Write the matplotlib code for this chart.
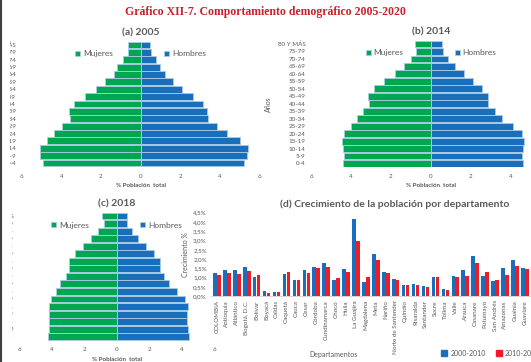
import numpy as np
import matplotlib
matplotlib.use("Agg")
import matplotlib.pyplot as plt
from matplotlib.lines import Line2D
from matplotlib.patches import Patch
from matplotlib.transforms import Bbox

# age groups, bottom (0-4) to top (80 y más)
edades = ["0-4", "5-9", "10-14", "15-19", "20-24", "25-29", "30-34", "35-39",
          "40-44", "45-49", "50-54", "55-59", "60-64", "65-69", "70-74",
          "75-79", "80 Y MÁS"]

muj_2005 = [4.92, 5.07, 5.07, 4.73, 4.35, 3.95, 3.55, 3.60, 3.35, 2.80, 2.25,
            1.77, 1.35, 1.17, 0.90, 0.63, 0.63]
hom_2005 = [5.21, 5.38, 5.42, 5.00, 4.36, 3.88, 3.42, 3.37, 3.16, 2.65, 2.12,
            1.66, 1.25, 1.00, 0.77, 0.51, 0.48]

muj_2014 = [4.40, 4.35, 4.40, 4.47, 4.33, 4.02, 3.70, 3.38, 3.10, 3.15, 2.85,
            2.33, 1.82, 1.37, 1.02, 0.77, 0.80]
hom_2014 = [4.60, 4.55, 4.60, 4.65, 4.55, 4.08, 3.53, 3.18, 2.87, 2.83, 2.57,
            2.08, 1.63, 1.18, 0.85, 0.62, 0.57]

muj_2018 = [4.25, 4.17, 4.17, 4.19, 4.19, 4.07, 3.76, 3.47, 3.14, 2.96, 2.96,
            2.59, 2.10, 1.60, 1.17, 0.78, 0.90]
hom_2018 = [4.48, 4.41, 4.31, 4.31, 4.41, 4.21, 3.70, 3.24, 2.91, 2.69, 2.69,
            2.32, 1.80, 1.33, 0.94, 0.62, 0.62]

deptos = ["COLOMBIA", "Antioquia", "Atlántico", "Bogotá, D.C.", "Bolívar",
          "Boyacá", "Caldas", "Caquetá", "Cauca", "Cesar", "Córdoba",
          "Cundinamarca", "Chocó", "Huila", "La Guajira", "Magdalena", "Meta",
          "Nariño", "Norte de Santander", "Quindío", "Risaralda", "Santander",
          "Sucre", "Tolima", "Valle", "Arauca", "Casanare", "Putumayo",
          "San Andrés", "Amazonas", "Guainía", "Guaviare"]
crec_0010 = [1.22, 1.40, 1.40, 1.56, 1.00, 0.27, 0.22, 1.17, 0.85, 1.38, 1.55,
             1.80, 0.86, 1.46, 4.14, 0.74, 2.27, 1.28, 0.90, 0.58, 0.63, 0.56,
             1.00, 0.38, 1.08, 1.38, 2.14, 1.06, 0.81, 1.51, 1.94, 1.51]
crec_1020 = [1.13, 1.24, 1.19, 1.33, 1.13, 0.16, 0.22, 1.29, 0.86, 1.24, 1.53,
             1.58, 0.99, 1.28, 2.99, 1.00, 1.94, 1.24, 0.86, 0.58, 0.58, 0.49,
             1.00, 0.31, 1.03, 1.10, 1.78, 1.28, 0.86, 1.15, 1.60, 1.46]

VERDE = "#00a650"
AZUL = "#1a6fbd"
ROJO = "#ee1c25"
GRIS = "#595959"
BORDE = "#a9cce3"

plt.rcParams["font.family"] = ["Lato", "DejaVu Sans"]

W, H = 531, 362
fig = plt.figure(figsize=(W / 100, H / 100), dpi=100)


def px_axes(x0, y0, x1, y1):
    ax = fig.add_axes([x0 / W, 1 - y1 / H, (x1 - x0) / W, (y1 - y0) / H])
    ax.patch.set_alpha(0)
    return ax


def piramide(ax, muj, hom, titulo, clip_x=None):
    y = np.arange(len(edades))
    ax.barh(y, -np.array(muj), height=0.92, color=VERDE, edgecolor=BORDE,
            linewidth=0.6, label="Mujeres")
    ax.barh(y, hom, height=0.92, color=AZUL, edgecolor=BORDE,
            linewidth=0.6, label="Hombres")
    ax.set_xlim(-6, 6)
    ax.set_ylim(-0.5, len(edades) - 0.5)
    ax.set_xticks([-6, -4, -2, 0, 2, 4, 6])
    ax.set_xticklabels(["6", "4", "2", "0", "2", "4", "6"])
    ax.set_yticks(y)
    ax.set_yticklabels(edades)
    ax.tick_params(length=0, labelsize=4.5, colors=GRIS, pad=4)
    ax.tick_params(axis="x", pad=5)
    for s in ax.spines.values():
        s.set_visible(False)
    ax.set_title(titulo, fontsize=7.5, fontweight="bold", color=GRIS, pad=4)
    ax.set_xlabel("% Población  total", fontsize=4.5, fontweight="bold",
                  color=GRIS, labelpad=3)
    ax.legend(loc="center", bbox_to_anchor=(0.5, 0.9), ncol=2, frameon=False,
              fontsize=6, labelcolor=GRIS, handlelength=0.6, handleheight=0.6,
              handletextpad=0.3, columnspacing=6.2)
    if clip_x is not None:
        # the age labels are cut at the left margin
        bb = Bbox.from_extents(clip_x, 0, W, H)
        for t in ax.get_yticklabels():
            t.set_clip_box(bb)
            t.set_clip_on(True)


# (a) 2005
ax_a = px_axes(21.7, 41.3, 259.3, 166.7)
piramide(ax_a, muj_2005, hom_2005, "(a) 2005", clip_x=10)

# (b) 2014
ax_b = px_axes(311, 40.3, 551, 167.2)
piramide(ax_b, muj_2014, hom_2014, "(b) 2014")
ax_b.set_ylabel("Años", fontsize=5, color=GRIS, labelpad=4)

# (c) 2018
ax_c = px_axes(19.3, 212.2, 214, 340.5)
piramide(ax_c, muj_2018, hom_2018, "(c) 2018", clip_x=12)

# (d) growth by department
ax_d = px_axes(211, 212.7, 554.6, 296)
x = np.arange(len(deptos))
bw = 0.36
ax_d.bar(x - bw / 2 - 0.02, crec_0010, width=bw, color=AZUL, label="2000-2010")
ax_d.bar(x + bw / 2 + 0.02, crec_1020, width=bw, color=ROJO, label="2010-2020")
ax_d.set_xlim(-0.6, 34)
ax_d.set_ylim(0, 4.5)
ax_d.set_yticks(np.arange(0, 4.51, 0.5))
ax_d.set_yticklabels([f"{v:.1f}%".replace(".", ",") for v in np.arange(0, 4.51, 0.5)])
ax_d.set_xticks(x)
ax_d.set_xticklabels(deptos, rotation=90)
ax_d.tick_params(length=0, labelsize=4.5, colors=GRIS, pad=3)
for s in ["top", "right", "left"]:
    ax_d.spines[s].set_visible(False)
ax_d.spines["bottom"].set_color("#d0d0d0")
ax_d.spines["bottom"].set_linewidth(0.6)
ax_d.set_ylabel("Crecimiento %", fontsize=5, color=GRIS, labelpad=3)
fig.text(395 / W, 1 - 204 / H, "(d) Crecimiento de la población por departamento",
         fontsize=7.5, fontweight="bold", color=GRIS, ha="center", va="center")
fig.text(333 / W, 1 - 355 / H, "Departamentos", fontsize=5, color=GRIS,
         ha="center", va="center")
ax_d.legend(handles=[Patch(color=AZUL, label="2000-2010"),
                     Patch(color=ROJO, label="2010-2020")],
            loc="center left", bbox_to_anchor=(435 / W, 1 - 353 / H),
            bbox_transform=fig.transFigure, ncol=2, frameon=False,
            fontsize=5, labelcolor=GRIS, handlelength=0.8, handleheight=0.8,
            handletextpad=0.5, columnspacing=1.5)

fig.text(0.5, 1 - 12 / H, "Gráfico XII-7. Comportamiento demográfico 2005-2020",
         family="Liberation Serif", fontsize=8.5, fontweight="bold",
         color="#c8202a", ha="center", va="center")

# dark border on the left edge
fig.add_artist(Line2D([1 / W, 1 / W], [0, 1], color="#404040", linewidth=1.5,
                      transform=fig.transFigure))

fig.savefig("out.png", dpi=100)
